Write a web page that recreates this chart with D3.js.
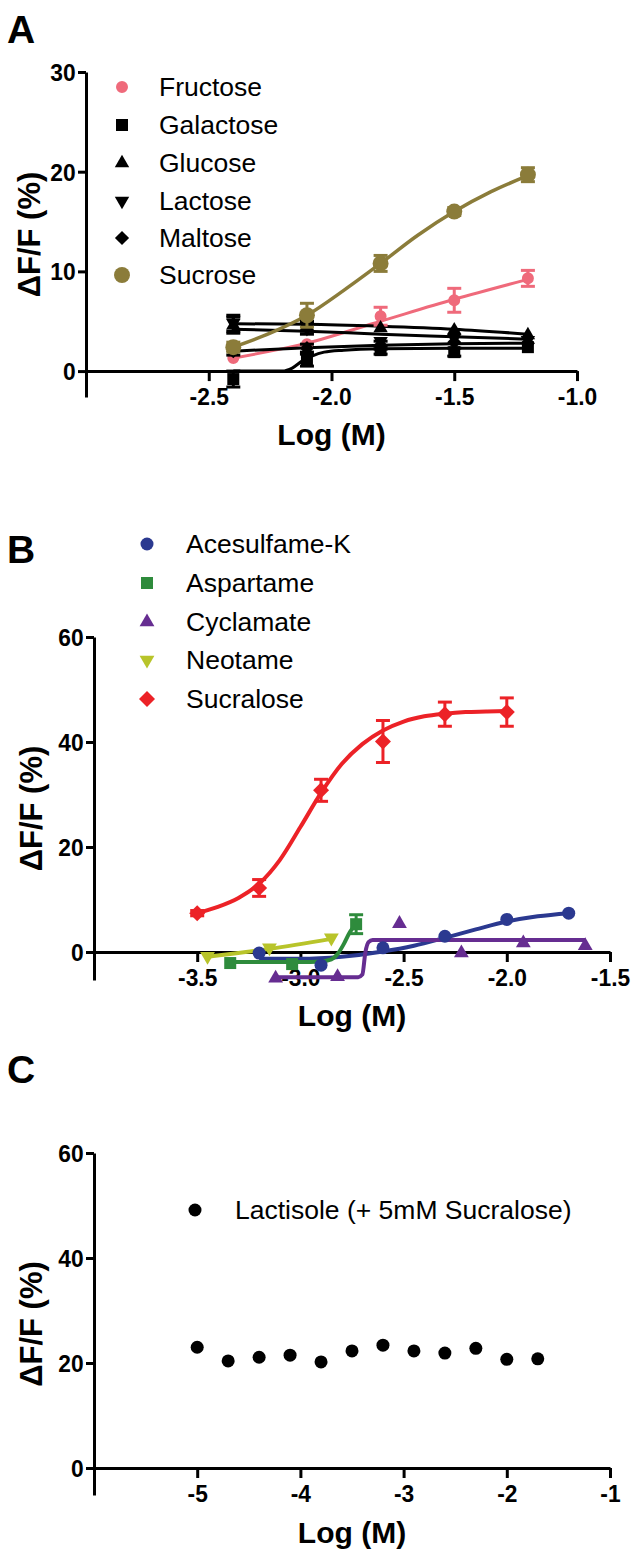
<!DOCTYPE html>
<html><head><meta charset="utf-8">
<script src="https://cdn.jsdelivr.net/npm/d3@7"></script>
<style>
html,body{margin:0;padding:0;background:#fff;}
svg{display:block;font-family:"Liberation Sans",Arial,Helvetica,sans-serif;}
</style></head>
<body>
<svg id="chart" width="635" height="1561"></svg>
<script>
// ---------- Panel A data (sugars) ----------
const xA = [-2.4, -2.1, -1.8, -1.5, -1.2];
const fructose = [1.3, 2.7, 5.5, 7.1, 9.3];
const fructoseErr = [0.3, 0.3, 0.9, 1.2, 0.8];
const galactose = [-0.8, 1.1, 2.1, 1.9, 2.4];
const galactoseErr = [0.8, 0.6, 0.4, 0.4, 0.3];
const glucose = [4.6, 4.5, 4.3, 4.1, 3.6];
const glucoseErr = [0.8, 0.5, 0.3, 0.3, 0.2];
const lactose = [4.8, 4.3, 3.0, 3.3, 3.1];
const lactoseErr = [0.8, 0.6, 0.3, 0.3, 0.2];
const maltose = [2.0, 2.3, 2.6, 2.9, 2.8];
const maltoseErr = [0.4, 0.4, 0.4, 0.3, 0.2];
const sucrose = [2.4, 5.6, 10.8, 16.0, 19.7];
const sucroseErr = [0.5, 1.2, 0.8, 0.4, 0.7];
// fitted curves
const fructoseFitX = [-2.4, -2.1, -1.8, -1.5, -1.2];
const fructoseFit = [1.3, 2.8, 5.0, 7.2, 9.2];
const sucroseFitX = [-2.4, -2.25, -2.1, -1.95, -1.8, -1.65, -1.5, -1.35, -1.2];
const sucroseFit = [2.4, 3.8, 5.6, 8.1, 10.8, 13.6, 16.0, 18.0, 19.6];
const glucoseFitX = [-2.4, -2.1, -1.8, -1.5, -1.2];
const glucoseFit = [4.75, 4.7, 4.5, 4.2, 3.7];
const lactoseFitX = [-2.4, -2.1, -1.8, -1.5, -1.2];
const lactoseFit = [4.2, 4.0, 3.7, 3.45, 3.2];
const maltoseFitX = [-2.4, -2.1, -1.8, -1.5, -1.2];
const maltoseFit = [2.0, 2.35, 2.6, 2.75, 2.8];
const galactoseFitX = [-2.4, -2.2, -2.16, -2.12, -2.08, -2.03, -1.95, -1.8, -1.5, -1.2];
const galactoseFit = [0, 0, 0.3, 1.0, 1.5, 1.9, 2.1, 2.25, 2.3, 2.3];

// ---------- Panel B data (sweeteners) ----------
const xAcesulfame = [-3.2, -2.9, -2.6, -2.3, -2.0, -1.7];
const acesulfame = [-0.2, -2.5, 0.8, 3.0, 6.2, 7.4];
const acesulfameFitX = [-3.2, -3.0, -2.8, -2.6, -2.45, -2.3, -2.15, -2.0, -1.85, -1.7];
const acesulfameFit = [-1.3, -1.3, -0.9, 0.1, 1.2, 2.7, 4.3, 5.8, 6.8, 7.4];
const xAspartame = [-3.34, -3.04, -2.73];
const aspartame = [-2.1, -2.3, 5.3];
const aspartameErr = [0.2, 0.3, 1.8];
const aspartameFitX = [-3.34, -3.0, -2.9, -2.85, -2.82, -2.79, -2.76, -2.73];
const aspartameFit = [-1.9, -1.9, -1.8, -1.4, -0.4, 1.5, 3.8, 5.3];
const xCyclamate = [-3.12, -2.82, -2.52, -2.22, -1.92, -1.62];
const cyclamate = [-5.0, -4.7, 5.4, -0.2, 1.7, 1.2];
const cyclamateFitX = [-3.12, -2.72, -2.70, -2.685, -2.67, -2.65, -1.62];
const cyclamateFit = [-4.8, -4.8, -4.3, 0, 1.9, 2.3, 2.3];
const xNeotame = [-3.45, -3.15, -2.85];
const neotame = [-0.8, 0.8, 2.7];
const neotameFitX = [-3.45, -3.15, -2.85];
const neotameFit = [-0.9, 0.6, 2.5];
const xSucralose = [-3.5, -3.2, -2.9, -2.6, -2.3, -2.0];
const sucralose = [7.4, 12.2, 30.8, 40.1, 45.3, 45.7];
const sucraloseErr = [0.5, 1.6, 2.1, 4.0, 2.3, 2.7];
const sucraloseFitX = [-3.5, -3.4, -3.3, -3.2, -3.1, -3.0, -2.9, -2.8, -2.7, -2.6, -2.5, -2.4, -2.3, -2.2, -2.1, -2.0];
const sucraloseFit = [7.4, 8.6, 10.3, 13.0, 17.5, 23.8, 30.3, 35.8, 39.6, 42.2, 43.9, 44.9, 45.4, 45.7, 45.8, 45.9];

// ---------- Panel C data ----------
const xLactisole = [-5.0, -4.7, -4.4, -4.1, -3.8, -3.5, -3.2, -2.9, -2.6, -2.3, -2.0, -1.7];
const lactisole = [23.0, 20.4, 21.1, 21.5, 20.2, 22.3, 23.4, 22.3, 21.9, 22.8, 20.7, 20.8];

// ---------- tick labels ----------
const ticksAx = [-2.5, -2.0, -1.5, -1.0];
const ticksAy = [0, 10, 20, 30];
const ticksBx = [-3.5, -3.0, -2.5, -2.0, -1.5];
const ticksBy = [0, 20, 40, 60];
const ticksCx = [-5, -4, -3, -2, -1];
const ticksCy = [0, 20, 40, 60];

const svg = d3.select("#chart");
const FONT = '"Liberation Sans", Arial, Helvetica, sans-serif';

function sym(type, size, rot) {
  return { path: d3.symbol().type(type).size(size)(), rot: rot || 0 };
}
const hy = f => d => f(d).replace("\u2212", "-");

function panel(cfg) {
  const g = svg.append("g");
  const x = d3.scaleLinear().domain(cfg.xDomain).range(cfg.xRange);
  const y = d3.scaleLinear().domain(cfg.yDomain).range(cfg.yRange);
  const y0 = y(0);

  const xa = g.append("g").attr("transform", `translate(0,${y0})`)
    .call(d3.axisBottom(x).tickValues(cfg.xTicks).tickSize(10).tickSizeOuter(0)
      .tickPadding(6).tickFormat(cfg.xFormat));
  const ya = g.append("g").attr("transform", `translate(${cfg.xRange[0]},0)`)
    .call(d3.axisLeft(y).tickValues(cfg.yTicks).tickSize(8).tickSizeOuter(0)
      .tickPadding(3).tickFormat(d3.format("d")));
  [xa, ya].forEach(a => {
    a.select(".domain").attr("stroke", "#000").attr("stroke-width", 3);
    a.selectAll(".tick line").attr("stroke", "#000").attr("stroke-width", 3);
    a.selectAll(".tick text").attr("fill", "#000").attr("font-size", 24)
      .attr("font-weight", "bold").attr("font-family", FONT)
      .attr("transform", "scale(0.95,1)");
  });
  xa.selectAll(".tick text").attr("dy", "0.76em");
  ya.selectAll(".tick text").attr("dy", "0.35em");

  const xc = (cfg.xRange[0] + cfg.xRange[1]) / 2;
  g.append("text").attr("x", xc).attr("y", cfg.xTitleY)
    .attr("text-anchor", "middle").attr("font-size", 30).attr("font-weight", "bold")
    .attr("font-family", FONT).text("Log (M)");
  const yc = (cfg.yRange[0] + cfg.yRange[1]) / 2;
  g.append("text").attr("transform", `translate(${cfg.yTitleX},${yc}) rotate(-90)`)
    .attr("text-anchor", "middle").attr("dominant-baseline", "central")
    .attr("font-size", 31).attr("font-weight", "bold")
    .attr("font-family", FONT).text("\u0394F/F (%)");

  g.append("text").attr("x", 7).attr("y", cfg.letterY).attr("font-size", 39)
    .attr("font-weight", "bold").attr("font-family", FONT).text(cfg.letter);

  const line = d3.line().x(d => x(d[0])).y(d => y(d[1])).curve(d3.curveMonotoneX);
  cfg.series.forEach(s => {
    if (s.fitX) {
      g.append("path").datum(s.fitX.map((v, i) => [v, s.fit[i]]))
        .attr("d", line).attr("fill", "none").attr("stroke", s.color)
        .attr("stroke-width", s.lw || 3).attr("stroke-linejoin", "round");
    }
  });
  cfg.series.forEach(s => {
    const pts = s.x.map((v, i) => ({ x: v, y: s.y[i], e: s.err ? s.err[i] : 0 }));
    pts.forEach(p => {
      if (p.e > 0.35) {
        const cx = x(p.x), yt = y(p.y + p.e), yb = y(p.y - p.e);
        g.append("line").attr("x1", cx).attr("x2", cx).attr("y1", yt).attr("y2", yb)
          .attr("stroke", s.color).attr("stroke-width", 3);
        [yt, yb].forEach(yy => g.append("line").attr("x1", cx - 7).attr("x2", cx + 7)
          .attr("y1", yy).attr("y2", yy).attr("stroke", s.color).attr("stroke-width", 3));
      }
    });
    g.selectAll(null).data(pts).enter().append("path")
      .attr("d", s.sym.path)
      .attr("transform", p => `translate(${x(p.x)},${y(p.y)}) rotate(${s.sym.rot})`)
      .attr("fill", s.color);
  });

  cfg.series.forEach((s, i) => {
    const ly = cfg.legY[i];
    g.append("path").attr("d", s.sym.path)
      .attr("transform", `translate(${cfg.legX},${ly}) rotate(${s.sym.rot})`)
      .attr("fill", s.color);
    g.append("text").attr("x", cfg.legTextX).attr("y", ly)
      .attr("dy", "0.35em").attr("font-size", 26.5)
      .attr("font-family", FONT).attr("fill", "#000").text(s.name);
  });
}

const f1 = hy(d3.format(".1f"));
const fd = hy(d3.format("d"));

panel({
  letter: "A", letterY: 43,
  xDomain: [-3, -1], xRange: [86, 577],
  yDomain: [-2.6, 30], yRange: [397, 72],
  xTicks: ticksAx, yTicks: ticksAy, xFormat: f1,
  xTitleY: 445, yTitleX: 29,
  legX: 122, legTextX: 159, legY: [87, 125, 163, 201, 238, 275],
  series: [
    { name: "Fructose", x: xA, y: fructose, err: fructoseErr, fitX: fructoseFitX, fit: fructoseFit, color: "#EF6A7B", sym: sym(d3.symbolCircle, 113) },
    { name: "Galactose", x: xA, y: galactose, err: galactoseErr, fitX: galactoseFitX, fit: galactoseFit, color: "#000", sym: sym(d3.symbolSquare, 144) },
    { name: "Glucose", x: xA, y: glucose, err: glucoseErr, fitX: glucoseFitX, fit: glucoseFit, color: "#000", sym: sym(d3.symbolTriangle, 90) },
    { name: "Lactose", x: xA, y: lactose, err: lactoseErr, fitX: lactoseFitX, fit: lactoseFit, color: "#000", sym: sym(d3.symbolTriangle, 90, 180) },
    { name: "Maltose", x: xA, y: maltose, err: maltoseErr, fitX: maltoseFitX, fit: maltoseFit, color: "#000", sym: sym(d3.symbolSquare, 100, 45) },
    { name: "Sucrose", x: xA, y: sucrose, err: sucroseErr, fitX: sucroseFitX, fit: sucroseFit, color: "#8B7C3A", sym: sym(d3.symbolCircle, 200), lw: 3.5 }
  ]
});

panel({
  letter: "B", letterY: 563,
  xDomain: [-4, -1.5], xRange: [94, 610],
  yDomain: [-5.33, 60], yRange: [980, 637],
  xTicks: ticksBx, yTicks: ticksBy, xFormat: f1,
  xTitleY: 1026, yTitleX: 31,
  legX: 147, legTextX: 186, legY: [544, 583, 622, 660, 699],
  series: [
    { name: "Acesulfame-K", x: xAcesulfame, y: acesulfame, fitX: acesulfameFitX, fit: acesulfameFit, color: "#2B3990", sym: sym(d3.symbolCircle, 133), lw: 4 },
    { name: "Aspartame", x: xAspartame, y: aspartame, err: aspartameErr, fitX: aspartameFitX, fit: aspartameFit, color: "#2E8B3C", sym: sym(d3.symbolSquare, 144), lw: 4 },
    { name: "Cyclamate", x: xCyclamate, y: cyclamate, fitX: cyclamateFitX, fit: cyclamateFit, color: "#662D91", sym: sym(d3.symbolTriangle, 95), lw: 4 },
    { name: "Neotame", x: xNeotame, y: neotame, fitX: neotameFitX, fit: neotameFit, color: "#B8C42A", sym: sym(d3.symbolTriangle, 95, 180), lw: 4 },
    { name: "Sucralose", x: xSucralose, y: sucralose, err: sucraloseErr, fitX: sucraloseFitX, fit: sucraloseFit, color: "#EC2227", sym: sym(d3.symbolSquare, 128, 45), lw: 4 }
  ]
});

panel({
  letter: "C", letterY: 1083,
  xDomain: [-6, -1], xRange: [94, 610],
  yDomain: [-5.14, 60], yRange: [1495, 1153],
  xTicks: ticksCx, yTicks: ticksCy, xFormat: fd,
  xTitleY: 1543, yTitleX: 31,
  legX: 195, legTextX: 235, legY: [1210],
  series: [
    { name: "Lactisole (+ 5mM Sucralose)", x: xLactisole, y: lactisole, color: "#000", sym: sym(d3.symbolCircle, 133) }
  ]
});
</script>
</body></html>
